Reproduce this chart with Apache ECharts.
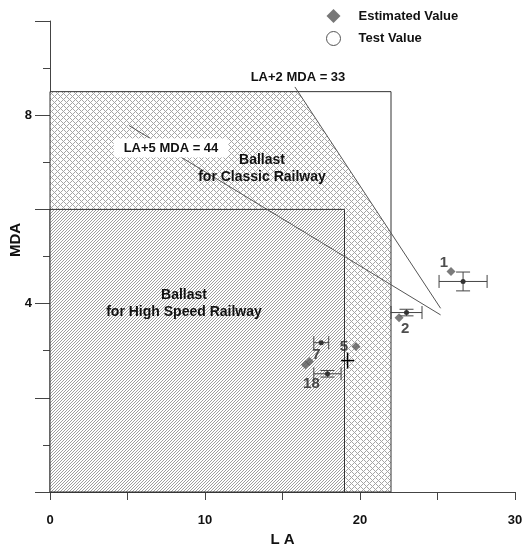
<!DOCTYPE html>
<html>
<head>
<meta charset="utf-8">
<script src="https://cdn.jsdelivr.net/npm/echarts@6/dist/echarts.min.js"></script>
<style>
  html, body { margin: 0; padding: 0; background: #fff; }
  #chart { width: 530px; height: 545px; }
</style>
</head>
<body>
<div id="chart"></div>
<script>
// Sample identifiers
const sampleIds = ['1', '2', '5', '7', '18'];

// Estimated values (LA, MDA)
const estimatedLA = [25.87, 22.52, 19.74, 16.74, 16.48];
const estimatedMDA = [4.68, 3.70, 3.09, 2.77, 2.70];

// Test values with their spreads
const testLA = [26.65, 23.0, 19.2, 17.5, 17.9];
const testMDA = [4.47, 3.81, 2.79, 3.17, 2.51];
const testLASpread = [1.55, 1.0, 0.42, 0.48, 0.88];
const testMDASpread = [0.2, 0.07, 0.17, 0, 0.07];

// Ballast zones (LA, MDA vertices)
const classicZone = [[0, 0], [0, 8.5], [16, 8.5], [22, 5.5], [22, 0]];
const classicFrame = [[0, 0], [0, 8.5], [22, 8.5], [22, 0]];
const highSpeedZone = [[0, 0], [0, 6], [19, 6], [19, 0]];

// Limit lines
const limitLA2MDA = [[15.8, 8.6], [25.2, 3.9]];   // LA + 2 MDA = 33
const limitLA5MDA = [[5.1, 7.78], [25.2, 3.76]];  // LA + 5 MDA = 44

// Tick labels
const xTickLabels = [0, 10, 20, 30];
const yTickLabels = [4, 8];

const FONT = '"Liberation Sans", Arial, sans-serif';

// Pixel fill patterns
function makePattern(size, isInk, ink) {
  const c = document.createElement('canvas');
  c.width = size; c.height = size;
  const ctx = c.getContext('2d');
  const img = ctx.createImageData(size, size);
  for (let y = 0; y < size; y++) {
    for (let x = 0; x < size; x++) {
      const i = (y * size + x) * 4;
      const v = isInk(x, y) ? ink : 255;
      img.data[i] = v; img.data[i + 1] = v; img.data[i + 2] = v; img.data[i + 3] = 255;
    }
  }
  ctx.putImageData(img, 0, 0);
  return { image: c, repeat: 'repeat' };
}
const diagonalFill = makePattern(3, (x, y) => (x + y) % 3 === 2, 158);
const crossFill = makePattern(6, (x, y) => (x + y) % 6 === 0 || (x - y + 6) % 6 === 0, 165);

function polygonSeries(name, pts, style, z) {
  return {
    name, type: 'custom', z, silent: true,
    data: [0],
    renderItem: (params, api) => ({
      type: 'polygon',
      shape: { points: pts.map(p => api.coord(p)) },
      style
    })
  };
}

function polylineSeries(name, pts, style, z) {
  return {
    name, type: 'custom', z, silent: true,
    data: [0],
    renderItem: (params, api) => ({
      type: 'polyline',
      shape: { points: pts.map(p => api.coord(p)) },
      style
    })
  };
}

// Label offsets for the sample numbers
const labelOffset = { '1': [-7, -9], '2': [6, 11], '5': [-12, 0], '7': [7, -7], '18': [6, 19] };
const plainCross = new Set(['5']);

const chart = echarts.init(document.getElementById('chart'));

chart.setOption({
  animation: false,
  backgroundColor: '#fff',
  grid: { left: 50, right: 15, top: 21, bottom: 53, outerBoundsMode: 'none', containLabel: false },
  legend: {
    orient: 'vertical',
    left: 321, top: 4,
    itemWidth: 14, itemHeight: 14, itemGap: 8,
    textStyle: { fontFamily: FONT, fontWeight: 'bold', fontSize: 13, color: '#111', padding: [0, 0, 0, 13] },
    data: [
      { name: 'Estimated Value', icon: 'diamond', itemStyle: { color: '#555' } },
      { name: 'Test Value', icon: 'circle', itemStyle: { color: '#fff', borderColor: '#555', borderWidth: 1 } }
    ]
  },
  xAxis: {
    type: 'value', min: 0, max: 30, interval: 5,
    axisLine: { show: true, onZero: false, lineStyle: { color: '#444', width: 1 } },
    axisTick: { show: true, length: 8, lineStyle: { color: '#444' } },
    axisLabel: {
      formatter: v => (xTickLabels.includes(v) ? String(v) : ''),
      margin: 22, fontFamily: FONT, fontWeight: 'bold', fontSize: 13, color: '#111'
    },
    splitLine: { show: false },
    name: 'L A', nameLocation: 'middle', nameGap: 40,
    nameTextStyle: { fontFamily: FONT, fontWeight: 'bold', fontSize: 15, color: '#111' }
  },
  yAxis: {
    type: 'value', min: 0, max: 10, interval: 2,
    axisLine: { show: true, onZero: false, lineStyle: { color: '#444', width: 1 } },
    axisTick: { show: true, length: 15, lineStyle: { color: '#444' } },
    minorTick: { show: true, splitNumber: 2, length: 7, lineStyle: { color: '#444' } },
    axisLabel: {
      formatter: v => (yTickLabels.includes(v) ? String(v) : ''),
      margin: 18, fontFamily: FONT, fontWeight: 'bold', fontSize: 13, color: '#111'
    },
    splitLine: { show: false }
  },
  graphic: [
    {
      type: 'text', x: 16, y: 240, rotation: Math.PI / 2, z: 10,
      style: { text: 'MDA', fontFamily: FONT, fontWeight: 'bold', fontSize: 15, fill: '#111', align: 'center', verticalAlign: 'middle' }
    },
    {
      type: 'text', x: 298, y: 77, z: 10,
      style: { text: 'LA+2 MDA = 33', fontFamily: FONT, fontWeight: 'bold', fontSize: 13, fill: '#111', align: 'center', verticalAlign: 'middle' }
    },
    {
      type: 'text', x: 171, y: 148, z: 10,
      style: {
        text: 'LA+5 MDA = 44', fontFamily: FONT, fontWeight: 'bold', fontSize: 13, fill: '#111',
        align: 'center', verticalAlign: 'middle',
        backgroundColor: '#fff', padding: [3, 10], borderRadius: 3
      }
    },
    {
      type: 'text', x: 262, y: 169, z: 10,
      style: { text: 'Ballast\nfor Classic Railway', fontFamily: FONT, fontWeight: 'bold', fontSize: 14, lineHeight: 17, fill: '#111', align: 'center', verticalAlign: 'middle' }
    },
    {
      type: 'text', x: 184, y: 304, z: 10,
      style: { text: 'Ballast\nfor High Speed Railway', fontFamily: FONT, fontWeight: 'bold', fontSize: 14, lineHeight: 17, fill: '#111', align: 'center', verticalAlign: 'middle' }
    }
  ],
  series: [
    polygonSeries('classicZone', classicZone, { fill: crossFill, stroke: null }, 1),
    polygonSeries('classicFrame', classicFrame, { fill: 'none', stroke: '#333', lineWidth: 1 }, 2),
    polygonSeries('highSpeedZone', highSpeedZone, { fill: diagonalFill, stroke: '#333', lineWidth: 1 }, 3),
    polylineSeries('limit33', limitLA2MDA, { stroke: '#555', lineWidth: 1, fill: null }, 4),
    polylineSeries('limit44', limitLA5MDA, { stroke: '#555', lineWidth: 1, fill: null }, 4),
    {
      name: 'Estimated Value',
      type: 'scatter', z: 6,
      symbol: 'diamond', symbolSize: 9,
      itemStyle: { color: '#5a5a5a' },
      data: sampleIds.map((id, i) => ({
        value: [estimatedLA[i], estimatedMDA[i]],
        label: {
          show: true, formatter: id, position: 'inside', offset: labelOffset[id],
          fontFamily: FONT, fontWeight: 'bold', fontSize: 15, color: '#222'
        }
      }))
    },
    {
      name: 'Test Value',
      type: 'custom', z: 5,
      itemStyle: { color: '#fff', borderColor: '#555' },
      data: sampleIds.map((id, i) => [testLA[i], testMDA[i], testLASpread[i], testMDASpread[i], i]),
      renderItem: (params, api) => {
        const la = api.value(0), mda = api.value(1), dla = api.value(2), dmda = api.value(3);
        const id = sampleIds[api.value(4)];
        const c = api.coord([la, mda]);
        const l = api.coord([la - dla, mda]);
        const r = api.coord([la + dla, mda]);
        const t = api.coord([la, mda + dmda]);
        const b = api.coord([la, mda - dmda]);
        const plain = plainCross.has(id);
        const stroke = plain ? '#000' : '#444';
        const lw = plain ? 1.5 : 1;
        const kids = [
          { type: 'line', shape: { x1: l[0], y1: l[1], x2: r[0], y2: r[1] }, style: { stroke, lineWidth: lw } }
        ];
        if (dmda > 0) {
          kids.push({ type: 'line', shape: { x1: t[0], y1: t[1], x2: b[0], y2: b[1] }, style: { stroke, lineWidth: lw } });
        }
        if (!plain) {
          const ch = 6.5, cw = 7;
          kids.push({ type: 'line', shape: { x1: l[0], y1: l[1] - ch, x2: l[0], y2: l[1] + ch }, style: { stroke, lineWidth: 1 } });
          kids.push({ type: 'line', shape: { x1: r[0], y1: r[1] - ch, x2: r[0], y2: r[1] + ch }, style: { stroke, lineWidth: 1 } });
          if (dmda > 0) {
            kids.push({ type: 'line', shape: { x1: t[0] - cw, y1: t[1], x2: t[0] + cw, y2: t[1] }, style: { stroke, lineWidth: 1 } });
            kids.push({ type: 'line', shape: { x1: b[0] - cw, y1: b[1], x2: b[0] + cw, y2: b[1] }, style: { stroke, lineWidth: 1 } });
          }
          kids.push({ type: 'circle', shape: { cx: c[0], cy: c[1], r: 2.5 }, style: { fill: '#333' } });
        }
        return { type: 'group', children: kids };
      }
    }
  ]
});
</script>
</body>
</html>
